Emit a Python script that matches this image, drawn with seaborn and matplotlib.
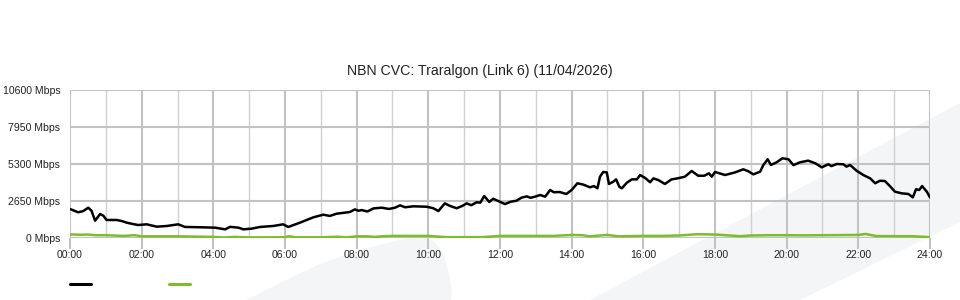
import numpy as np
import pandas as pd
import seaborn as sns
import matplotlib
matplotlib.use("Agg")
import matplotlib.pyplot as plt
from matplotlib.patches import Polygon
from matplotlib.lines import Line2D

# ---------------- data ----------------
title = "NBN CVC: Traralgon (Link 6) (11/04/2026)"
y_ticks = [0, 2650, 5300, 7950, 10600]
y_tick_labels = ["0 Mbps", "2650 Mbps", "5300 Mbps", "7950 Mbps", "10600 Mbps"]
x_ticks = list(range(0, 25, 2))
x_tick_labels = [f"{h:02d}:00" for h in x_ticks]

black_hours = [0.00, 0.12, 0.23, 0.37, 0.51, 0.60, 0.70, 0.84, 0.93, 1.02, 1.30, 1.44, 1.58, 1.72,
               1.90, 2.14, 2.42, 2.70, 3.02, 3.21, 3.63, 4.05, 4.33, 4.47, 4.70, 4.84, 5.07, 5.30,
               5.67, 5.95, 6.09, 6.42, 6.79, 7.07, 7.25, 7.44, 7.81, 7.95, 8.05, 8.14, 8.30, 8.47,
               8.70, 8.90, 9.07, 9.21, 9.35, 9.58, 9.95, 10.14, 10.28, 10.46, 10.60, 10.79, 10.95,
               11.07, 11.20, 11.35, 11.45, 11.56, 11.70, 11.81, 11.95, 12.14, 12.30, 12.46, 12.60,
               12.75, 12.85, 12.98, 13.12, 13.26, 13.40, 13.50, 13.67, 13.85, 14.00, 14.16, 14.33,
               14.51, 14.62, 14.72, 14.79, 14.88, 14.98, 15.04, 15.16, 15.24, 15.33, 15.40, 15.54,
               15.68, 15.82, 15.91, 16.05, 16.19, 16.28, 16.42, 16.60, 16.79, 16.95, 17.16, 17.35,
               17.53, 17.70, 17.83, 17.91, 18.00, 18.28, 18.56, 18.79, 18.93, 19.07, 19.26, 19.35,
               19.47, 19.56, 19.72, 19.88, 20.05, 20.19, 20.37, 20.60, 20.80, 20.98, 21.16, 21.25,
               21.40, 21.58, 21.67, 21.77, 21.95, 22.14, 22.33, 22.47, 22.60, 22.74, 22.88, 23.02,
               23.21, 23.40, 23.52, 23.61, 23.70, 23.78, 23.91, 24.00]
black_mbps = [2080, 1950, 1840, 1930, 2170, 1950, 1240, 1720, 1600, 1290, 1290, 1220, 1100, 1020,
              930, 980, 810, 860, 980, 790, 770, 740, 620, 800, 740, 620, 670, 790,
              860, 980, 790, 1100, 1480, 1670, 1580, 1740, 1860, 2050, 1950, 2000, 1900, 2120,
              2170, 2080, 2170, 2340, 2200, 2270, 2240, 2130, 1930, 2480, 2300, 2130, 2300,
              2480, 2350, 2560, 2530, 3010, 2580, 2810, 2650, 2430, 2600, 2670, 2890,
              2980, 2880, 2960, 3080, 2960, 3440, 3280, 3290, 3150, 3440, 3920, 3820,
              3630, 3720, 3560, 4390, 4730, 4700, 3870, 4030, 4200, 3670, 3560, 3960,
              4200, 4200, 4510, 4300, 3990, 4270, 4150, 3870, 4200, 4270, 4390, 4800,
              4460, 4460, 4630, 4390, 4730, 4510, 4700, 4920, 4780, 4560, 4750, 5230,
              5640, 5230, 5420, 5710, 5640, 5220, 5420, 5540, 5350, 5060, 5280, 5150,
              5300, 5280, 5110, 5230, 4820, 4510, 4270, 3920, 4100, 4080, 3720, 3320,
              3200, 3150, 2910, 3490, 3440, 3720, 3320, 2910]

green_hours = [0.0, 0.3, 0.5, 0.7, 1.0, 1.5, 1.8, 2.0, 3.0, 4.0, 4.3, 4.6, 5.0, 6.0, 6.1, 6.3, 7.0,
               7.5, 7.7, 8.0, 8.3, 8.5, 8.7, 9.0, 10.0, 10.5, 11.0, 11.5, 12.0, 13.0, 13.5, 14.0,
               14.3, 14.5, 15.0, 15.3, 16.0, 16.5, 17.0, 17.5, 18.0, 18.3, 18.7, 19.0, 19.5, 20.0,
               20.5, 21.0, 22.0, 22.2, 22.5, 23.0, 23.5, 24.0]
green_mbps = [260, 230, 250, 200, 200, 150, 200, 120, 120, 80, 30, 80, 40, 50, 130, 50, 50,
              90, 40, 120, 120, 80, 120, 150, 150, 60, 60, 60, 150, 150, 150, 220,
              200, 120, 220, 120, 150, 150, 180, 270, 250, 200, 130, 180, 200, 200,
              190, 200, 220, 290, 140, 130, 130, 60]

black_color = "#000000"
green_color = "#7cbd2a"

# ---------------- style ----------------
sns.set_theme(style="white")
plt.rcParams["font.family"] = ["Liberation Sans", "DejaVu Sans"]

W, H = 960, 300
fig = plt.figure(figsize=(9.6, 3.0), dpi=100)
fig.patch.set_facecolor("white")

def fc(pts):
    return [(x / W, 1 - y / H) for x, y in pts]

# faint background watermark (decoration, behind everything)
wm = "#f4f5f7"
fin = [(246, 300), (280, 283), (320, 264), (360, 250), (395, 241), (418, 237), (434, 241),
       (443, 252), (448, 270), (452, 292), (451, 300)]
band = [(590, 300), (960, 103), (960, 222), (800, 300)]
for shape in (fin, band):
    fig.patches.append(Polygon(fc(shape), closed=True, transform=fig.transFigure,
                               facecolor=wm, edgecolor="none", zorder=-10))

ax_left, ax_right, ax_top, ax_bottom = 70, 930, 90, 238
ax = fig.add_axes([ax_left / W, 1 - ax_bottom / H, (ax_right - ax_left) / W, (ax_bottom - ax_top) / H])
ax.set_zorder(1)
ax.patch.set_alpha(0)

df_b = pd.DataFrame({"hour": black_hours, "mbps": black_mbps})
df_g = pd.DataFrame({"hour": green_hours, "mbps": green_mbps})
sns.lineplot(data=df_g, x="hour", y="mbps", ax=ax, color=green_color, linewidth=1.8,
             estimator=None, zorder=3)
sns.lineplot(data=df_b, x="hour", y="mbps", ax=ax, color=black_color, linewidth=1.8,
             estimator=None, zorder=4)

ax.set_xlim(0, 24)
ax.set_ylim(0, 10600)
ax.set_xticks(x_ticks)
ax.set_xticklabels(x_tick_labels)
ax.set_xticks(np.arange(1, 24, 2), minor=True)
ax.set_yticks(y_ticks)
ax.set_yticklabels(y_tick_labels)
ax.set_xlabel("")
ax.set_ylabel("")

for s in ax.spines.values():
    s.set_visible(False)

ax.grid(True, which="major", axis="both", color="#c2c2c2", linewidth=1.5, zorder=1)
ax.grid(True, which="minor", axis="x", color="#d0d0d0", linewidth=1.0, zorder=1)
ax.set_axisbelow(True)

ax.tick_params(axis="x", which="major", length=8, width=1.5, color="#c2c2c2",
               direction="out", pad=1, labelsize=7.6, labelcolor="#222222", bottom=True)
ax.tick_params(axis="x", which="minor", length=0)
ax.tick_params(axis="y", which="major", length=0, pad=7, labelsize=7.6, labelcolor="#222222")

fig.text(480 / W, 1 - 71 / H, title, ha="center", va="center", fontsize=10.2, color="#222222")

handles = [Line2D([], [], color=black_color, lw=2.2), Line2D([], [], color=green_color, lw=2.2)]
fig.legend(handles=handles, labels=["", ""], ncol=2, loc="center left",
           bbox_to_anchor=(70 / W, 1 - 285 / H), frameon=False, handlelength=2.0,
           handletextpad=0.0, columnspacing=7.4, borderpad=0, borderaxespad=0, fontsize=7.6)

fig.savefig("out.png", dpi=100, facecolor="white")
